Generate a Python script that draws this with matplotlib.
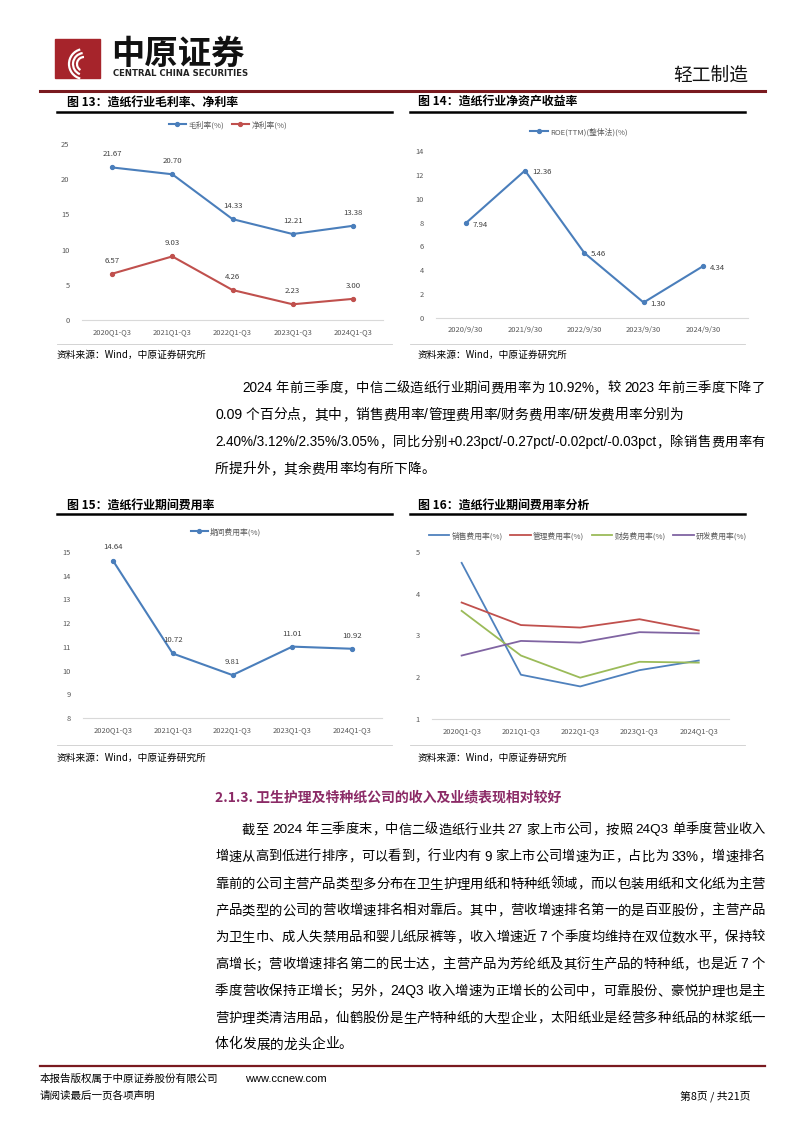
import re
import matplotlib
matplotlib.use('Agg')
import matplotlib.pyplot as plt
from matplotlib import font_manager
from matplotlib.lines import Line2D
from matplotlib.patches import Rectangle, Arc
from matplotlib.font_manager import FontProperties

plt.rcParams['font.family'] = ['Noto Sans CJK SC', 'DejaVu Sans']

# ---- data ----
cats_q = ['2020Q1-Q3', '2021Q1-Q3', '2022Q1-Q3', '2023Q1-Q3', '2024Q1-Q3']
cats_d = ['2020/9/30', '2021/9/30', '2022/9/30', '2023/9/30', '2024/9/30']
gross_margin = [21.67, 20.70, 14.33, 12.21, 13.38]
net_margin = [6.57, 9.03, 4.26, 2.23, 3.00]
roe = [7.94, 12.36, 5.46, 1.30, 4.34]
period_exp = [14.64, 10.72, 9.81, 11.01, 10.92]
sales_exp = [4.74, 2.06, 1.78, 2.17, 2.40]
admin_exp = [3.79, 3.25, 3.19, 3.39, 3.12]
fin_exp = [3.59, 2.52, 1.99, 2.37, 2.35]
rd_exp = [2.52, 2.87, 2.83, 3.08, 3.05]

para1 = [
    '2024 年前三季度，中信二级造纸行业期间费用率为 10.92%，较 2023 年前三季度下降了',
    '0.09 个百分点，其中，销售费用率/管理费用率/财务费用率/研发费用率分别为',
    '2.40%/3.12%/2.35%/3.05%，同比分别+0.23pct/-0.27pct/-0.02pct/-0.03pct，除销售费用率有',
    '所提升外，其余费用率均有所下降。',
]
para2 = [
    '截至 2024 年三季度末，中信二级造纸行业共 27 家上市公司，按照 24Q3 单季度营业收入',
    '增速从高到低进行排序，可以看到，行业内有 9 家上市公司增速为正，占比为 33%，增速排名',
    '靠前的公司主营产品类型多分布在卫生护理用纸和特种纸领域，而以包装用纸和文化纸为主营',
    '产品类型的公司的营收增速排名相对靠后。其中，营收增速排名第一的是百亚股份，主营产品',
    '为卫生巾、成人失禁用品和婴儿纸尿裤等，收入增速近 7 个季度均维持在双位数水平，保持较',
    '高增长；营收增速排名第二的民士达，主营产品为芳纶纸及其衍生产品的特种纸，也是近 7 个',
    '季度营收保持正增长；另外，24Q3 收入增速为正增长的公司中，可靠股份、豪悦护理也是主',
    '营护理类清洁用品，仙鹤股份是生产特种纸的大型企业，太阳纸业是经营多种纸品的林浆纸一',
    '体化发展的龙头企业。',
]

W, H = 802, 1133
fig = plt.figure(figsize=(W / 100, H / 100), dpi=100)
renderer = fig.canvas.get_renderer()
FAM = ['Noto Sans CJK SC', 'DejaVu Sans']
installed = {f.name for f in font_manager.fontManager.ttflist}
NARROW = 'Liberation Sans Narrow' if 'Liberation Sans Narrow' in installed else 'Liberation Sans'
BLUE, RED, GREEN, PURPLE = '#4A7EBB', '#C0504D', '#9BBB59', '#8064A2'
LBL = '#404040'


def px_axes(l, t, r, b):
    return fig.add_axes([l / W, 1 - b / H, (r - l) / W, (b - t) / H])


def ftext(x, y, s, **kw):
    kw.setdefault('va', 'center')
    return fig.text(x / W, 1 - y / H, s, **kw)


def hline(x0, x1, y, lw, color):
    fig.add_artist(Line2D([x0 / W, x1 / W], [1 - y / H] * 2, lw=lw, color=color))


def measure(toks, size):
    cjk = FontProperties(family=FAM, size=size)
    lat = FontProperties(family=[NARROW, 'DejaVu Sans'], size=size * 1.02)
    props = [lat if t[0].isascii() else cjk for t in toks]
    widths = [size * 0.25 * 100 / 72 if t == ' ' else
              renderer.get_text_width_height_descent(t, p, ismath=False)[0]
              for t, p in zip(toks, props)]
    return props, widths


def body_line(x0, y, s, x1=None, size=9.9):
    # CJK glyphs one by one; spread extra space evenly, shrink a line that is too long
    toks = re.findall(r'[\x21-\x7e]+| |[^\x00-\x7f]', s)
    props, widths = measure(toks, size)
    gap = 0.0
    if x1 is not None:
        if sum(widths) > x1 - x0:
            size *= (x1 - x0) / sum(widths) * 0.995
            props, widths = measure(toks, size)
        gap = (x1 - x0 - sum(widths)) / (len(toks) - 1)
    x = x0
    for t, p, w in zip(toks, props, widths):
        if t != ' ':
            ftext(x, y, t, fontproperties=p)
        x += w + gap


def chart(l, t, r, b, cats, xmax, ylim, yticks, pad):
    ax = px_axes(l, t, r, b)
    ax.set_xlim(-0.5, xmax)
    ax.set_ylim(*ylim)
    ax.set_yticks(yticks)
    ax.set_xticks(range(len(cats)), cats)
    for s in ['top', 'right', 'left']:
        ax.spines[s].set_visible(False)
    ax.spines['bottom'].set_color('#d9d9d9')
    ax.spines['bottom'].set_linewidth(0.8)
    ax.tick_params(length=0, labelsize=5.4, colors='#595959')
    ax.tick_params(axis='y', pad=pad)
    ax.tick_params(axis='x', pad=6)
    ax.patch.set_alpha(0)
    return ax


def legend(ax, cx, cy, ncol, handlelength=2.2):
    ax.legend(loc='center', bbox_to_anchor=(cx / W, 1 - cy / H), bbox_transform=fig.transFigure,
              ncol=ncol, frameon=False, fontsize=5.6, handlelength=handlelength,
              columnspacing=1.0, handletextpad=0.3, labelcolor='#595959')


# ---- header ----
fig.add_artist(Rectangle((55 / W, 1 - 78 / H), 45 / W, 39 / H, color='#A6242B'))
for r0, th in [(30, (110, 250)), (22, (100, 240)), (14, (90, 230))]:
    fig.add_artist(Arc((84 / W, 1 - 64 / H), r0 / W, r0 / H, theta1=th[0], theta2=th[1],
                       color='white', lw=1.6))
ftext(111, 54, '中原证券', fontsize=24, fontweight='heavy', color='#111111')
ftext(113, 74, 'CENTRAL CHINA SECURITIES', fontsize=6.1, fontweight='bold',
      family='DejaVu Sans', color='#222222')
ftext(748, 75, '轻工制造', fontsize=13.5, ha='right', color='#111111')
hline(40, 765, 91, 2.2, '#7A1A1F')

# ---- chart titles / rules ----
for x, y, s in [(67, 102, '图 13：造纸行业毛利率、净利率'), (418, 102, '图 14：造纸行业净资产收益率'),
                (67, 505, '图 15：造纸行业期间费用率'), (418, 505, '图 16：造纸行业期间费用率分析')]:
    ftext(x, y, s, fontsize=8.6, fontweight='bold')
for y in (112, 514):
    hline(57, 392, y, 1.8, 'black')
    hline(410, 745, y, 1.8, 'black')
for y in (344, 745):
    hline(57, 392, y, 0.6, '#cccccc')
    hline(410, 745, y, 0.6, '#cccccc')
for x, y in [(57, 355), (418, 355), (57, 758), (418, 758)]:
    ftext(x, y, '资料来源：Wind，中原证券研究所', fontsize=7)

# ---- chart 13 ----
ax = chart(82, 144, 383, 320, cats_q, 4.5, (0, 25), range(0, 26, 5), 9)
ax.plot(gross_margin, color=BLUE, lw=1.5, marker='o', ms=2.8, label='毛利率(%)')
ax.plot(net_margin, color=RED, lw=1.5, marker='o', ms=2.8, label='净利率(%)')
for i in range(5):
    ax.annotate(f'{gross_margin[i]:.2f}', (i, gross_margin[i]), xytext=(0, 8),
                textcoords='offset points', ha='center', fontsize=5.6, color=LBL)
    ax.annotate(f'{net_margin[i]:.2f}', (i, net_margin[i]), xytext=(0, 8),
                textcoords='offset points', ha='center', fontsize=5.6, color=LBL)
legend(ax, 228, 125, 2)

# ---- chart 14 ----
ax = chart(436, 151, 748, 318, cats_d, 4.76, (0, 14), range(0, 15, 2), 9)
ax.plot(roe, color=BLUE, lw=1.5, marker='o', ms=2.8, label='ROE(TTM)(整体法)(%)')
for i in range(5):
    ax.annotate(f'{roe[i]:.2f}', (i, roe[i]), xytext=(5, -1), textcoords='offset points',
                ha='left', va='center', fontsize=5.6, color=LBL)
legend(ax, 579, 132, 1)

# ---- chart 15 ----
ax = chart(83, 552, 382, 718, cats_q, 4.5, (8, 15), range(8, 16), 9)
ax.plot(period_exp, color=BLUE, lw=1.5, marker='o', ms=2.8, label='期间费用率(%)')
for i in range(5):
    ax.annotate(f'{period_exp[i]:.2f}', (i, period_exp[i]), xytext=(0, 8),
                textcoords='offset points', ha='center', fontsize=5.6, color=LBL)
legend(ax, 226, 532, 1)

# ---- chart 16 ----
ax = chart(432, 552, 729, 719, cats_q, 4.51, (1, 5), range(1, 6), 9)
ax.plot(sales_exp, color='#4F81BD', lw=1.3, label='销售费用率(%)')
ax.plot(admin_exp, color=RED, lw=1.3, label='管理费用率(%)')
ax.plot(fin_exp, color=GREEN, lw=1.3, label='财务费用率(%)')
ax.plot(rd_exp, color=PURPLE, lw=1.3, label='研发费用率(%)')
legend(ax, 588, 536, 4, handlelength=2.6)

# ---- body text ----
for i, s in enumerate(para1):
    x0 = 242 if i == 0 else 215
    body_line(x0, 388 + i * 27, s, 765 if i in (0, 2) else None)

ftext(215, 797, '2.1.3. 卫生护理及特种纸公司的收入及业绩表现相对较好', fontsize=10,
      fontweight='bold', color='#8B2A66')

for i, s in enumerate(para2):
    x0 = 242 if i == 0 else 215
    body_line(x0, 830 + i * 26.8, s, 765 if i < len(para2) - 1 else None)

# ---- footer ----
hline(40, 765, 1066, 1.6, '#7A1A1F')
ftext(40, 1079, '本报告版权属于中原证券股份有限公司', fontsize=7.6)
ftext(245, 1079, 'www.ccnew.com', fontsize=8, family='Liberation Sans')
ftext(40, 1096, '请阅读最后一页各项声明', fontsize=7.6)
ftext(750, 1096, '第8页 / 共21页', fontsize=7.8, ha='right')

fig.savefig('out.png', dpi=100)
